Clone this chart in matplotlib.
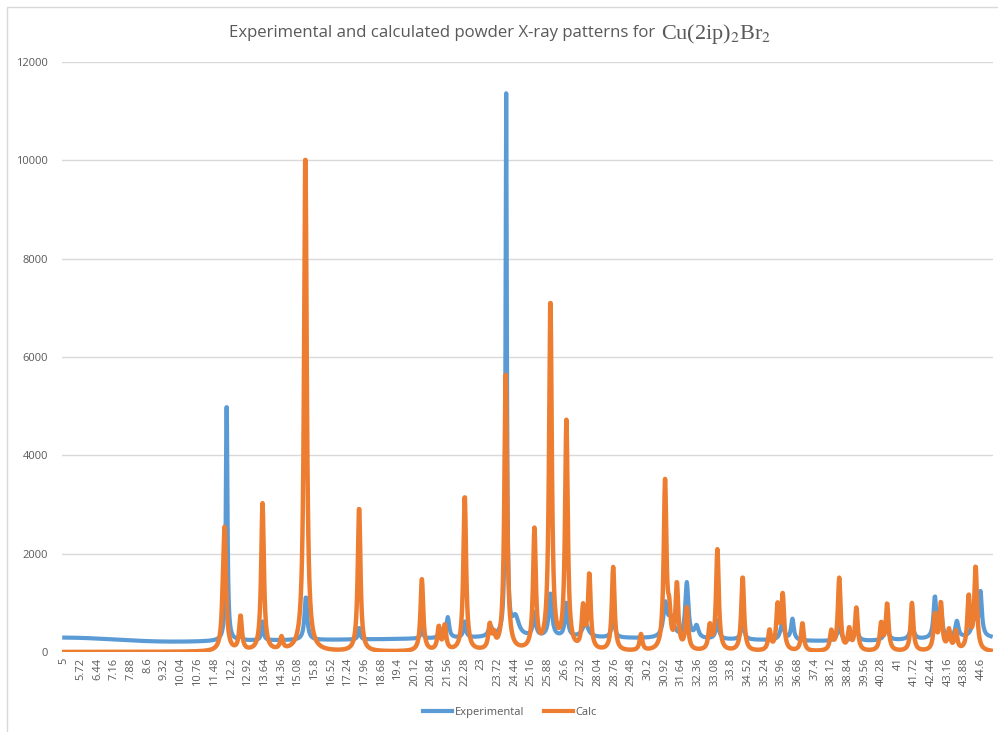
import numpy as np
import matplotlib
matplotlib.use("Agg")
import matplotlib.pyplot as plt
from matplotlib.lines import Line2D

# 2-theta grid of the scan (step 0.02 deg)
two_theta = np.arange(5.0, 45.0001, 0.02)

# calculated pattern: peak positions (deg) and heights
calc_pos = [11.86, 11.93, 12.61, 13.56, 14.38, 15.41, 17.73, 20.44, 21.17, 21.43,
            22.29, 23.37, 23.55, 24.06, 25.30, 25.99, 26.68, 27.40, 27.67, 28.70,
            29.90, 30.94, 31.12, 31.45, 31.88, 32.87, 33.20, 34.29, 35.45, 35.80,
            36.02, 36.87, 38.12, 38.46, 38.89, 39.20, 40.27, 40.53, 41.60, 42.59,
            42.85, 43.20, 43.50, 44.05, 44.35]
calc_int = [650, 2200, 700, 3000, 250, 10200, 2950, 1460, 470, 500,
            3180, 480, 260, 5600, 2420, 7150, 4620, 820, 1520, 1700,
            330, 3400, 600, 1320, 840, 480, 2050, 1520, 400, 880,
            1100, 570, 380, 1470, 420, 860, 540, 950, 980, 720,
            950, 400, 380, 1080, 1700]

# experimental pattern: background level, peaks and widths (deg)
exp_bg = 235
exp_bg_pos = [5.0, 9.5, 25.5, 38.5, 44.5]
exp_bg_int = [60, -30, 60, -20, 50]
exp_bg_wid = [2.0, 2.0, 5.0, 2.0, 2.0]
exp_pos = [12.01, 12.61, 13.56, 15.43, 17.73, 20.44, 21.20, 21.56, 22.29, 23.40,
           24.08, 24.48, 25.30, 25.99, 26.68, 27.50, 28.70, 30.95, 31.20, 31.88,
           32.30, 33.20, 34.29, 36.00, 36.44, 38.46, 39.20, 40.50, 41.60, 42.59,
           42.85, 43.54, 44.30, 44.56]
exp_int = [5050, 150, 380, 880, 240, 240, 200, 420, 330, 200,
           11000, 380, 480, 880, 680, 280, 480, 650, 380, 1120,
           240, 380, 380, 330, 430, 280, 230, 280, 280, 830,
           560, 330, 380, 880]
exp_fwhm = [0.08, 0.1, 0.1, 0.14, 0.1, 0.1, 0.1, 0.14, 0.12, 0.2,
            0.07, 0.35, 0.14, 0.16, 0.14, 0.3, 0.14, 0.2, 0.3, 0.16,
            0.2, 0.15, 0.15, 0.2, 0.14, 0.2, 0.2, 0.2, 0.2, 0.14,
            0.14, 0.16, 0.25, 0.14]

calc_fwhm = 0.14

xtick_labels = ["5", "5.72", "6.44", "7.16", "7.88", "8.6", "9.32", "10.04", "10.76",
                "11.48", "12.2", "12.92", "13.64", "14.36", "15.08", "15.8", "16.52",
                "17.24", "17.96", "18.68", "19.4", "20.12", "20.84", "21.56", "22.28",
                "23", "23.72", "24.44", "25.16", "25.88", "26.6", "27.32", "28.04",
                "28.76", "29.48", "30.2", "30.92", "31.64", "32.36", "33.08", "33.8",
                "34.52", "35.24", "35.96", "36.68", "37.4", "38.12", "38.84", "39.56",
                "40.28", "41", "41.72", "42.44", "43.16", "43.88", "44.6"]


def lorentz(x, pos, height, fwhm):
    g = fwhm / 2.0
    return height / (1.0 + ((x - pos) / g) ** 2)


calc = np.zeros_like(two_theta)
for p, h in zip(calc_pos, calc_int):
    calc += lorentz(two_theta, p, h, calc_fwhm)

exp = np.full_like(two_theta, exp_bg, dtype=float)
for p, h, w in zip(exp_bg_pos, exp_bg_int, exp_bg_wid):
    exp += h * np.exp(-0.5 * ((two_theta - p) / w) ** 2)
for p, h, w in zip(exp_pos, exp_int, exp_fwhm):
    exp += lorentz(two_theta, p, h, w)

blue = "#5B9BD5"
orange = "#ED7D31"
gray = "#595959"

plt.rcParams["mathtext.fontset"] = "stix"

fig = plt.figure(figsize=(9.98, 7.32), dpi=100)
ax = fig.add_axes([0.0621, 0.1093, 0.9329, 0.806])

ax.plot(two_theta, exp, color=blue, lw=3.0, solid_joinstyle="round")
ax.plot(two_theta, calc, color=orange, lw=3.2, solid_joinstyle="round")

ax.set_xlim(4.9, 45.1)
ax.set_ylim(0, 12000)
ax.set_yticks(np.arange(0, 12001, 2000))
ax.set_yticklabels([str(v) for v in range(0, 12001, 2000)], fontsize=8,
                   color=gray, family="Open Sans")
ax.set_xticks([float(s) for s in xtick_labels])
ax.set_xticklabels(xtick_labels, rotation=90, fontsize=8, color=gray,
                   family="Open Sans")
ax.tick_params(axis="x", length=0, pad=4)
ax.tick_params(axis="y", length=0, pad=10)
ax.grid(axis="y", color="#D9D9D9", lw=1)
ax.set_axisbelow(True)
for s in ax.spines.values():
    s.set_visible(False)

# title: plain part + formula in serif
fig.text(0.661, 0.955, "Experimental and calculated powder X-ray patterns for ",
         ha="right", va="center", fontsize=12.1, color=gray, family="Open Sans")
fig.text(0.662, 0.953, r"Cu(2ip)$_2$Br$_2$", ha="left", va="center",
         fontsize=16, color=gray, family="Liberation Serif")

handles = [Line2D([], [], color=blue, lw=3), Line2D([], [], color=orange, lw=3)]
fig.legend(handles, ["Experimental", "Calc"], loc="center", bbox_to_anchor=(0.511, 0.027),
           ncol=2, frameon=False, handlelength=2.6, handletextpad=0.2,
           columnspacing=1.8, labelcolor=gray, prop={"family": "Open Sans", "size": 8})

# chart border
fig.add_artist(plt.Rectangle((0.007, -0.01), 1.0, 1.0, transform=fig.transFigure,
                             fill=False, ec="#D9D9D9", lw=1))

fig.savefig("out.png", dpi=100)
